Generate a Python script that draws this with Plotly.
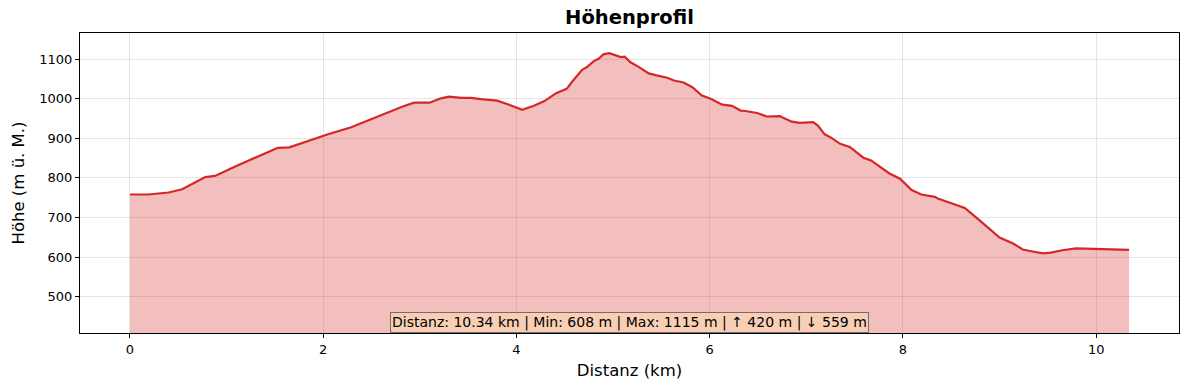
import plotly.graph_objects as go

distance_km = [0.00, 0.19, 0.40, 0.54, 0.78, 0.88, 1.09, 1.36, 1.53, 1.65, 1.91, 2.05, 2.29, 2.46,
               2.60, 2.81, 2.94, 3.10, 3.22, 3.30, 3.43, 3.53, 3.63, 3.80, 3.91, 4.06, 4.18, 4.29,
               4.41, 4.51, 4.52, 4.58, 4.68, 4.73, 4.80, 4.85, 4.90, 4.96, 5.03, 5.08, 5.12, 5.18,
               5.26, 5.37, 5.45, 5.56, 5.63, 5.73, 5.82, 5.92, 6.01, 6.13, 6.23, 6.32, 6.37, 6.49,
               6.59, 6.73, 6.76, 6.85, 6.93, 7.07, 7.12, 7.19, 7.26, 7.35, 7.45, 7.59, 7.67, 7.86,
               7.97, 8.09, 8.19, 8.33, 8.36, 8.64, 8.79, 9.00, 9.14, 9.24, 9.34, 9.45, 9.53, 9.65,
               9.79, 10.00, 10.20, 10.34]
elevation_m = [758, 758, 763, 771, 802, 805, 829, 859, 876, 877, 899, 910, 928, 945,
               957, 979, 990, 990, 1001, 1005, 1002, 1002, 999, 995, 986, 972, 982, 994,
               1014, 1024, 1025, 1044, 1073, 1080, 1095, 1101, 1112, 1115, 1110, 1105, 1106, 1092,
               1081, 1064, 1059, 1053, 1046, 1041, 1029, 1008, 1000, 985, 982, 970, 969, 964,
               955, 956, 952, 942, 939, 941, 932, 910, 901, 886, 878, 851, 844, 811,
               798, 769, 758, 752, 748, 724, 693, 649, 634, 619, 614, 609, 611, 617,
               622, 620, 618, 618]

title_text = "Höhenprofil"
x_label = "Distanz (km)"
y_label = "Höhe (m ü. M.)"
stats_text = "Distanz: 10.34 km | Min: 608 m | Max: 1115 m | ↑ 420 m | ↓ 559 m"
x_ticks = [0, 2, 4, 6, 8, 10]
y_ticks = [500, 600, 700, 800, 900, 1000, 1100]

FONT = "DejaVu Sans"

fig = go.Figure()
fig.add_trace(go.Scatter(
    x=distance_km, y=elevation_m, mode="lines",
    line=dict(color="rgb(214,39,40)", width=2.2),
    fill="tozeroy", fillcolor="rgba(214,39,40,0.3)",
    hoverinfo="x+y", showlegend=False,
))

axis_common = dict(
    showline=True, linecolor="black", linewidth=1, mirror=True,
    ticks="outside", ticklen=4, tickwidth=1, tickcolor="black",
    showgrid=True, gridcolor="rgba(0,0,0,0.1)", gridwidth=1,
    zeroline=False, tickfont=dict(family=FONT, size=13, color="black"),
)

fig.update_layout(
    width=1189, height=390,
    margin=dict(l=80, r=10, t=33, b=57),
    paper_bgcolor="white", plot_bgcolor="white",
    font=dict(family=FONT, color="black"),
    title=dict(text="<b>" + title_text + "</b>", x=0.5, xref="paper", xanchor="center",
               y=0.955, yanchor="middle", font=dict(family=FONT, size=19.5, color="black")),
    xaxis=dict(range=[-0.517, 10.857], tickvals=x_ticks, ticktext=[str(v) for v in x_ticks],
               title=dict(text=x_label, font=dict(family=FONT, size=16.5, color="black"), standoff=8),
               **axis_common),
    yaxis=dict(range=[408, 1166], tickvals=y_ticks, ticktext=[str(v) for v in y_ticks],
               title=dict(text=y_label, font=dict(family=FONT, size=16.5, color="black"), standoff=10),
               **axis_common),
    annotations=[dict(
        text=stats_text, xref="paper", yref="paper", x=0.5, y=0.0,
        xanchor="center", yanchor="bottom", showarrow=False,
        font=dict(family=FONT, size=14, color="black"),
        bgcolor="rgba(248,210,180,0.85)", bordercolor="rgba(100,100,100,0.9)",
        borderwidth=1, borderpad=1,
    )],
)

fig.write_html("out.html")
